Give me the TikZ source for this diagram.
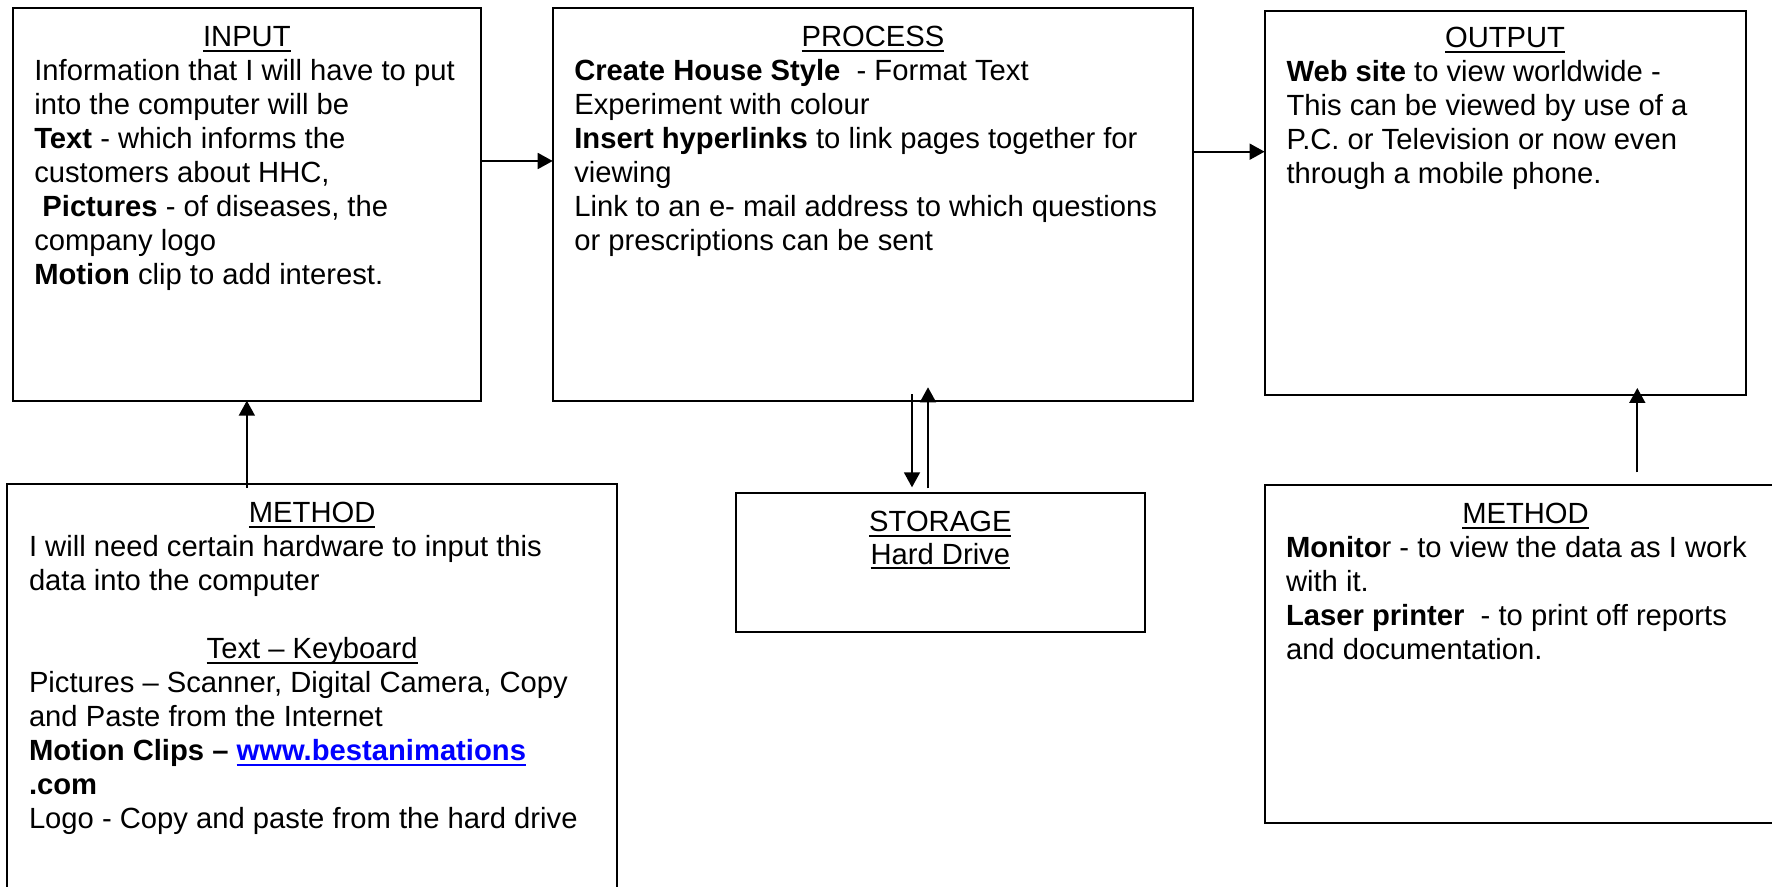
\documentclass[tikz,border=0pt]{standalone}
\usepackage{fontspec}
\setmainfont{Liberation Sans}
\usetikzlibrary{arrows.meta,fit}
\definecolor{linkblue}{RGB}{0,0,255}
\frenchspacing
% underline drawn as a rule just under the baseline
\newcommand\ulin[1]{\setbox0=\hbox{#1}\rlap{\rule[-2.7pt]{\wd0}{1.1pt}}\box0}
% centred, underlined heading line of a given width
\newcommand\titleln[2]{\hbox to #1{\hfil\ulin{#2}\hfil}}
\tikzset{
  box/.style={draw, line width=1pt, inner sep=0pt, outer sep=0pt},
  txt/.style={inner sep=0pt, outer sep=0pt, font=\fontsize{14.6pt}{17pt}\selectfont},
  arr/.style={line width=0.9pt, -{Triangle[length=7.5pt,width=8pt]}}
}
\begin{document}
\begin{tikzpicture}[x=0.5pt, y=-0.5pt]
\useasboundingbox (0,0) rectangle (1772,887);
\fill[white] (0,0) rectangle (1772,887);

% frames
\node[box, fit={(12.7,8.3) (481,400.7)}] (inbox) {};
\node[box, fit={(552.7,8.3) (1193.3,400.7)}] (proc) {};
\node[box, fit={(1264.6,11) (1745.5,395.4)}] (obox) {};
\node[box, fit={(7.3,484.3) (617,910)}] (lmeth) {};
\node[box, fit={(735.7,493.3) (1145,631.7)}] (stor) {};
\node[box, fit={(1265,485) (1786,823.3)}] (rmeth) {};

% texts
\node[txt, anchor=base west] (intext) at (34.3,46.7) {\vtop{\baselineskip=17pt
  \titleln{212.55pt}{INPUT}
  \hbox{Information that I will have to put}
  \hbox{into the computer will be}
  \hbox{\textbf{Text} - which informs the}
  \hbox{customers about HHC,}
  \hbox{\ \textbf{Pictures} - of diseases, the}
  \hbox{company logo}
  \hbox{\textbf{Motion} clip to add interest.}}};

\node[txt, anchor=base west] (proctext) at (574.3,46.7) {\vtop{\baselineskip=17pt
  \titleln{298.7pt}{PROCESS}
  \hbox{\textbf{Create House Style}\ \ - Format Text}
  \hbox{Experiment with colour}
  \hbox{\textbf{Insert hyperlinks} to link pages together for}
  \hbox{viewing}
  \hbox{Link to an e- mail address to which questions}
  \hbox{or prescriptions can be sent}}};

\node[txt, anchor=base west] (otext) at (1286.5,48) {\vtop{\baselineskip=17pt
  \titleln{218.55pt}{OUTPUT}
  \hbox{\textbf{Web site} to view worldwide -}
  \hbox{This can be viewed by use of a}
  \hbox{P.C. or Television or now even}
  \hbox{through a mobile phone.}}};

\node[txt, anchor=base west] (lmtext) at (29,522.7) {\vtop{\baselineskip=17pt
  \titleln{283.15pt}{METHOD}
  \hbox{I will need certain hardware to input this}
  \hbox{data into the computer}
  \hbox{}
  \titleln{283.15pt}{Text – Keyboard}
  \hbox{Pictures – Scanner, Digital Camera, Copy}
  \hbox{and Paste from the Internet}
  \hbox{\textbf{Motion Clips – {\color{linkblue}\ulin{www.bestanimations}}}}
  \hbox{\textbf{.com}}
  \hbox{Logo - Copy and paste from the hard drive}}};

\node[txt, anchor=base west] (rmtext) at (1286,523.3) {\vtop{\baselineskip=17pt
  \titleln{239.5pt}{METHOD}
  \hbox{\textbf{Monito}r - to view the data as I work}
  \hbox{with it.}
  \hbox{\textbf{Laser printer}\ \ - to print off reports}
  \hbox{and documentation.}}};

\node[txt, anchor=base] (sttext) at (940.35,531.7) {\vtop{\baselineskip=16.2pt
  \titleln{150pt}{STORAGE}
  \titleln{150pt}{Hard Drive}}};

% connectors
\coordinate (h1) at (0,161);
\coordinate (h2) at (0,151.7);
\coordinate (v1) at (912,0);
\coordinate (v2) at (928,0);
\coordinate (v3) at (1637.3,0);

\draw[arr] (inbox.east |- h1) -- (proc.west |- h1);
\draw[arr] (proc.east |- h2) -- (obox.west |- h2);
\draw[arr, shorten <=-1.8pt] (lmeth.north -| inbox.south) -- (inbox.south);
\draw[arr, shorten <=-3.3pt, shorten >=3pt] (proc.south -| v1) -- (stor.north -| v1);
\draw[arr, shorten <=2.5pt, shorten >=-6.7pt] (stor.north -| v2) -- (proc.south -| v2);
\draw[arr, shorten <=6.3pt, shorten >=-3.7pt] (rmeth.north -| v3) -- (obox.south -| v3);
\end{tikzpicture}
\end{document}
